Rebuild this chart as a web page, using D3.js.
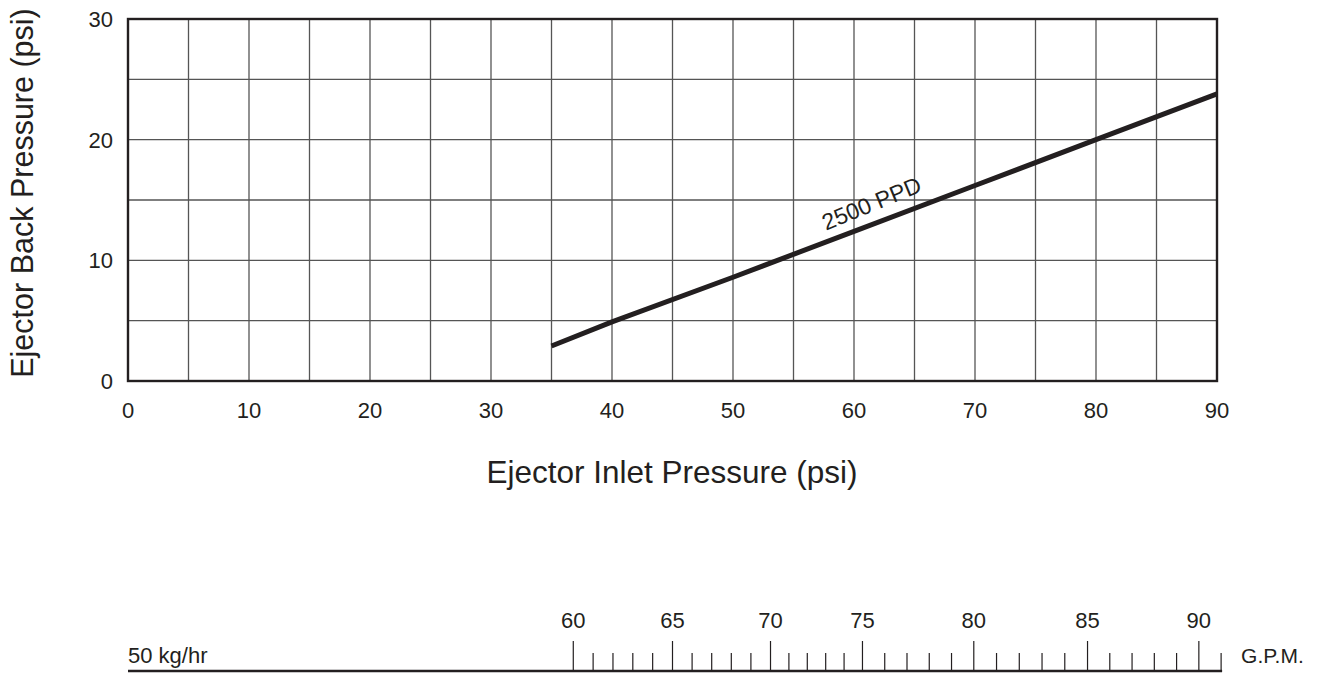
<!DOCTYPE html>
<html><head><meta charset="utf-8">
<script src="https://cdn.jsdelivr.net/npm/d3@7"></script>
<style>body{margin:0;background:#fff;} svg{display:block;} text{font-family:"Liberation Sans",Arial,Helvetica,sans-serif;fill:#231f20;}</style>
</head><body>
<svg id="c" width="1321" height="673"></svg>
<script>
// Data
const xTicks = [0,10,20,30,40,50,60,70,80,90];
const yTicks = [0,10,20,30];
const seriesName = "2500 PPD";
const inletPsi = [35,40,50,60,70,80,90];
const backPsi  = [2.9,4.9,8.6,12.4,16.2,20,23.8];
const gpmMajor = [60,65,70,75,80,85,90];
const gpmAtPsi = [36.8,45.0,53.1,60.7,69.9,79.3,88.5]; // inlet psi position of each GPM mark
const gpmMinorEnd = 91;
const flowLabel = "50 kg/hr";
const unitLabel = "G.P.M.";

const svg = d3.select("#c");
const L=128, R=1217, T=19, B=381;
const x = d3.scaleLinear().domain([0,90]).range([L,R]);
const y = d3.scaleLinear().domain([0,30]).range([B,T]);
const ink = "#231f20";

// grid
const g = svg.append("g");
g.selectAll(".vx").data(d3.range(5,90,5)).join("line")
  .attr("x1",d=>x(d)).attr("x2",d=>x(d)).attr("y1",T).attr("y2",B)
  .attr("stroke","#555").attr("stroke-width",1.3);
g.selectAll(".hy").data(d3.range(5,30,5)).join("line")
  .attr("y1",d=>y(d)).attr("y2",d=>y(d)).attr("x1",L).attr("x2",R)
  .attr("stroke","#555").attr("stroke-width",1.3);
g.append("rect").attr("x",L).attr("y",T).attr("width",R-L).attr("height",B-T)
  .attr("fill","none").attr("stroke",ink).attr("stroke-width",2.4);

// tick labels
svg.selectAll(".xt").data(xTicks).join("text")
  .attr("x",d=>x(d)).attr("y",B+37).attr("text-anchor","middle")
  .attr("font-size",22).text(d=>d);
svg.selectAll(".yt").data(yTicks).join("text")
  .attr("x",L-15).attr("y",d=>y(d)).attr("dy","0.36em").attr("text-anchor","end")
  .attr("font-size",22).text(d=>d);

// titles
svg.append("text").attr("x",672).attr("y",483).attr("text-anchor","middle")
  .attr("font-size",31.5).text("Ejector Inlet Pressure (psi)");
svg.append("text").attr("transform","translate(33,193) rotate(-90)")
  .attr("text-anchor","middle").attr("font-size",30.5).text("Ejector Back Pressure (psi)");

// series line
const pts = inletPsi.map((v,i)=>[v,backPsi[i]]);
svg.append("path").datum(pts)
  .attr("d",d3.line().x(d=>x(d[0])).y(d=>y(d[1])))
  .attr("fill","none").attr("stroke",ink).attr("stroke-width",5);

// series label
const ang = -Math.atan2(y(backPsi[3])-y(backPsi[4]), x(70)-x(60))*180/Math.PI - 1.5;
svg.append("text")
  .attr("transform",`translate(${x(61.7)},${y(14.1)}) rotate(${ang})`)
  .attr("text-anchor","middle").attr("font-size",23).text(seriesName);

// bottom GPM scale
const gpmToPsi = d3.scaleLinear().domain(gpmMajor).range(gpmAtPsi);
const base = 671;
svg.append("line").attr("x1",L).attr("x2",x(gpmToPsi(gpmMinorEnd))+1)
  .attr("y1",base).attr("y2",base).attr("stroke",ink).attr("stroke-width",2.4);
const allTicks = d3.range(gpmMajor[0], gpmMinorEnd+1, 1);
svg.selectAll(".gt").data(allTicks).join("line")
  .attr("x1",d=>x(gpmToPsi(d))).attr("x2",d=>x(gpmToPsi(d)))
  .attr("y1",d=>d%5===0?641:653).attr("y2",base)
  .attr("stroke",ink).attr("stroke-width",1.2);
svg.selectAll(".gl").data(gpmMajor).join("text")
  .attr("x",d=>x(gpmToPsi(d))).attr("y",628).attr("text-anchor","middle")
  .attr("font-size",22).text(d=>d);
svg.append("text").attr("x",L).attr("y",663).attr("font-size",22).text(flowLabel);
svg.append("text").attr("x",x(gpmToPsi(gpmMinorEnd))+20).attr("y",663).attr("font-size",21).text(unitLabel);
</script>
</body></html>
